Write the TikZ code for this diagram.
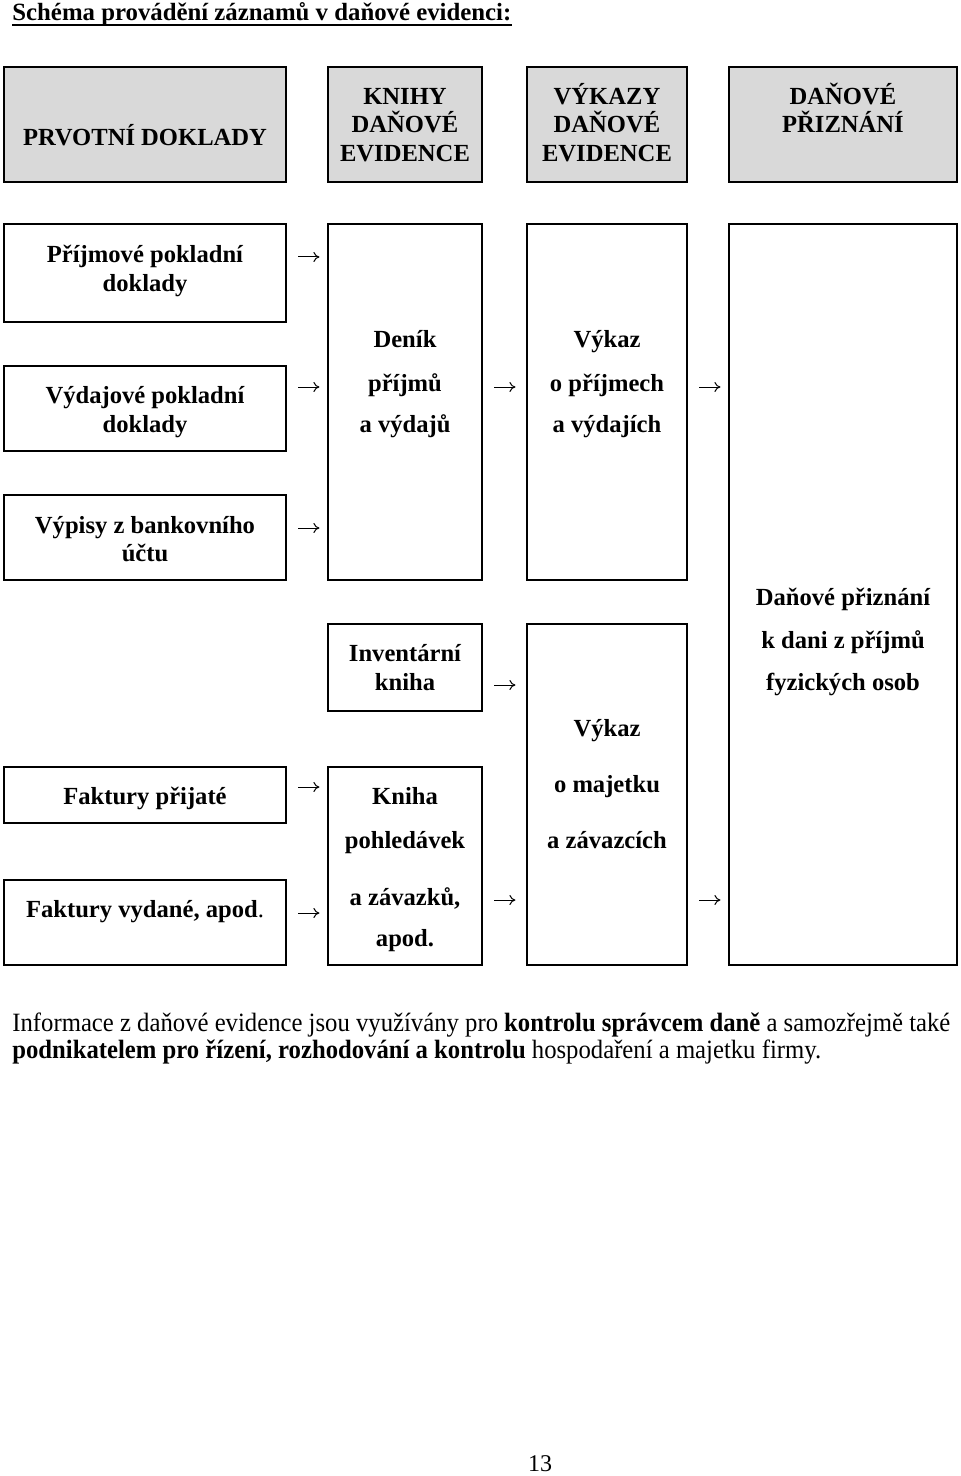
\documentclass[tikz,border=0pt]{standalone}
\usepackage{fontspec}
\setmainfont{Liberation Serif}
\usetikzlibrary{arrows.meta,calc}
\definecolor{headgray}{RGB}{217,217,217}
\newsavebox\parlineA
\newsavebox\parlineB
\begin{document}
\sbox\parlineA{\fontsize{13.2pt}{15pt}\selectfont Informace z daňové evidence jsou využívány pro \textbf{kontrolu správcem daně} a samozřejmě také}%
\sbox\parlineB{\fontsize{13.2pt}{15pt}\selectfont \textbf{podnikatelem pro řízení, rozhodování a kontrolu} hospodaření a majetku firmy.}%
\pgfmathsetmacro\pfac{469pt/\the\wd\parlineA}%
\begin{tikzpicture}[x=0.5pt,y=-0.5pt,
  box/.style={draw, line width=1.4pt, inner sep=0pt, fill=white},
  head/.style={box, fill=headgray},
  txt/.style={font=\fontsize{12.3pt}{14pt}\selectfont\bfseries, inner sep=0pt, text height=8.1pt, text depth=0pt, anchor=center},
  arr/.style={line width=0.5pt, -{Computer Modern Rightarrow[length=3pt,width=5pt]}}
]
\useasboundingbox[fill=white] (0,0) rectangle (960,1476);

% title
\node[anchor=base west, inner sep=0pt, font=\fontsize{12.4pt}{14pt}\selectfont\bfseries] (title) at (12,21) {Schéma provádění záznamů v daňové evidenci:};
\draw[line width=1.2pt] ([yshift=-2pt]title.base west) -- ([yshift=-2pt]title.base east);

% header boxes
\node[head, minimum width=141pt, minimum height=57.5pt] (h1) at (145,124.5) {};
\node[head, minimum width=77pt, minimum height=57.5pt] (h2) at (405,124.5) {};
\node[head, minimum width=80pt, minimum height=57.5pt] (h3) at (607,124.5) {};
\node[head, minimum width=114pt, minimum height=57.5pt] (h4) at (843,124.5) {};

\node[txt] (h1t) at (145,137) {PRVOTNÍ DOKLADY};
\node[txt] (h2a) at (405,96) {KNIHY};
\node[txt] (h2b) at (405,124) {DAŇOVÉ};
\node[txt] (h2c) at (405,153) {EVIDENCE};
\node[txt] (h3a) at (607,96) {VÝKAZY};
\node[txt] (h3b) at (607,124) {DAŇOVÉ};
\node[txt] (h3c) at (607,153) {EVIDENCE};
\node[txt] (h4a) at (843,96) {DAŇOVÉ};
\node[txt] (h4b) at (843,124) {PŘIZNÁNÍ};

% first column
\node[box, minimum width=141pt, minimum height=49pt] (b1) at (145,273) {};
\node[box, minimum width=141pt, minimum height=42.5pt] (b2) at (145,408.5) {};
\node[box, minimum width=141pt, minimum height=42.5pt] (b3) at (145,537.5) {};
\node[box, minimum width=141pt, minimum height=28pt] (b4) at (145,795) {};
\node[box, minimum width=141pt, minimum height=42.5pt] (b5) at (145,922.5) {};

\node[txt] (b1a) at (145,254) {Příjmové pokladní};
\node[txt] (b1b) at (145,283) {doklady};
\node[txt] (b2a) at (145,395) {Výdajové pokladní};
\node[txt] (b2b) at (145,424) {doklady};
\node[txt] (b3a) at (145,525) {Výpisy z bankovního};
\node[txt] (b3b) at (145,553) {účtu};
\node[txt] (b4a) at (145,796) {Faktury přijaté};
\node[txt] (b5a) at (145,909) {Faktury vydané, apod\textmd{.}};

% second column
\node[box, minimum width=77pt, minimum height=178pt] (c1) at (405,402) {};
\node[box, minimum width=77pt, minimum height=43.5pt] (c2) at (405,667.5) {};
\node[box, minimum width=77pt, minimum height=99pt] (c3) at (405,866) {};

\node[txt] (c1a) at (405,339) {Deník};
\node[txt] (c1b) at (405,383) {příjmů};
\node[txt] (c1c) at (405,424) {a výdajů};
\node[txt] (c2a) at (405,653) {Inventární};
\node[txt] (c2b) at (405,682) {kniha};
\node[txt] (c3a) at (405,796) {Kniha};
\node[txt] (c3b) at (405,840) {pohledávek};
\node[txt] (c3c) at (405,897) {a závazků,};
\node[txt] (c3d) at (405,938) {apod.};

% third column
\node[box, minimum width=80pt, minimum height=178pt] (d1) at (607,402) {};
\node[box, minimum width=80pt, minimum height=170.5pt] (d2) at (607,794.5) {};

\node[txt] (d1a) at (607,339) {Výkaz};
\node[txt] (d1b) at (607,383) {o příjmech};
\node[txt] (d1c) at (607,424) {a výdajích};
\node[txt] (d2a) at (607,728) {Výkaz};
\node[txt] (d2b) at (607,784) {o majetku};
\node[txt] (d2c) at (607,840) {a závazcích};

% fourth column
\node[box, minimum width=114pt, minimum height=370.5pt] (e1) at (843,594.5) {};
\node[txt] (e1a) at (843,597) {Daňové přiznání};
\node[txt] (e1b) at (843,640) {k dani z příjmů};
\node[txt] (e1c) at (843,682) {fyzických osob};

% arrows
\draw[arr] ($(b1.east)+(11,-16)$) -- ++(21,0);
\draw[arr] ($(b2.east)+(11,-21.5)$) -- ++(21,0);
\draw[arr] ($(c1.east)+(11,-15)$) -- ++(21,0);
\draw[arr] ($(d1.east)+(11,-15)$) -- ++(21,0);
\draw[arr] ($(b3.east)+(11,-9.5)$) -- ++(21,0);
\draw[arr] ($(c2.east)+(11,17.5)$) -- ++(21,0);
\draw[arr] ($(b4.east)+(11,-8)$) -- ++(21,0);
\draw[arr] ($(b5.east)+(11,-9.5)$) -- ++(21,0);
\draw[arr] ($(c3.east)+(11,34)$) -- ++(21,0);
\draw[arr] ($(d2.east)+(11,105.5)$) -- ++(21,0);

% paragraph
\node[anchor=base west, inner sep=0pt] (p1) at (12,1031) {\scalebox{\pfac}[1]{\usebox\parlineA}};
\node[anchor=base west, inner sep=0pt] (p2) at (12,1058) {\scalebox{\pfac}[1]{\usebox\parlineB}};

% page number
\node[anchor=base, inner sep=0pt, font=\fontsize{12pt}{14pt}\selectfont] (pg) at (540,1471) {13};
\end{tikzpicture}
\end{document}
